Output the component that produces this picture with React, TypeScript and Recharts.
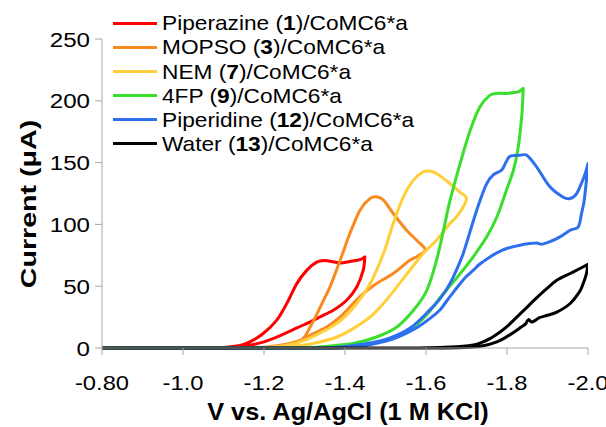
import React from 'react';
import { LineChart, Line, XAxis, YAxis } from 'recharts';

// ---- data (V vs. Ag/AgCl, current in µA) ----
const piperazineV = [-0.8,-1.05,-1.10,-1.14,-1.165,-1.198,-1.231,-1.256,-1.281,-1.306,-1.330,-1.350,-1.370,-1.390,-1.412,-1.437,-1.449,-1.445,-1.429,-1.404,-1.371,-1.338,-1.30,-1.27,-1.24,-1.20,-1.16,-1.12,-1.07,-0.8];
const piperazineI = [0,0,0.5,2,4.9,11.7,22.4,35.9,52.1,63,69.5,70.8,69.8,68.8,70,71.5,73.7,63,49.4,38.6,30.5,25.1,19,14.5,10,5,2,0.5,0,0];

const mopsoV = [-0.8,-1.18,-1.24,-1.28,-1.30,-1.314,-1.33,-1.346,-1.363,-1.388,-1.412,-1.437,-1.462,-1.478,-1.495,-1.519,-1.552,-1.577,-1.598,-1.580,-1.560,-1.519,-1.478,-1.445,-1.420,-1.388,-1.355,-1.322,-1.289,-1.24,-1.20,-1.16,-0.8];
const mopsoI = [0,0,1,4,9,17,27,38,49.4,71,92.6,111.5,121,122.3,119.6,108.8,95.3,87.2,79.7,74.5,71,60.3,52.2,44,36,25.1,17,11.7,6.2,2.2,0.6,0,0];

const nemV = [-0.8,-1.18,-1.24,-1.289,-1.338,-1.388,-1.429,-1.462,-1.495,-1.519,-1.544,-1.569,-1.593,-1.61,-1.626,-1.659,-1.684,-1.700,-1.690,-1.675,-1.659,-1.626,-1.593,-1.560,-1.528,-1.495,-1.462,-1.420,-1.380,-1.338,-1.29,-1.24,-1.18,-0.8];
const nemI = [0,0,1.5,5,12,22,36,52,76.5,100.7,122.3,135.8,142.5,143,141.2,133.1,126,121.2,113,106,100.7,87.2,76.5,62.9,49.4,36,25.1,15.7,8.9,4.9,2,0.5,0,0];

const fpV = [-0.8,-1.30,-1.338,-1.42,-1.478,-1.528,-1.569,-1.602,-1.626,-1.643,-1.659,-1.684,-1.709,-1.733,-1.758,-1.775,-1.799,-1.828,-1.840,-1.837,-1.828,-1.816,-1.799,-1.775,-1.750,-1.717,-1.684,-1.651,-1.635,-1.61,-1.58,-1.55,-1.52,-1.486,-1.45,-1.40,-1.35,-0.8];
const fpI = [0,0,0.8,3.6,8.9,17,30.5,46.7,71,95,119,149,176,195,204.6,206,206,207.3,210,190,163,144,128,106,90,74,60,47,41,30,20,13,8,5,2.5,0.8,0,0];

const piperidineV = [-0.8,-1.35,-1.42,-1.50,-1.56,-1.61,-1.635,-1.659,-1.675,-1.692,-1.717,-1.733,-1.750,-1.766,-1.787,-1.797,-1.807,-1.832,-1.849,-1.873,-1.906,-1.939,-1.956,-1.970,-1.980,-1.992,-2.000,-1.996,-1.990,-1.984,-1.976,-1.956,-1.931,-1.906,-1.886,-1.873,-1.857,-1.832,-1.799,-1.775,-1.758,-1.733,-1.717,-1.700,-1.684,-1.665,-1.651,-1.635,-1.610,-1.58,-1.552,-1.52,-1.486,-1.45,-1.42,-1.38,-0.8];
const piperidineI = [0,0,2,7,16,31,40,52,63,76.5,103,119,133,140,144,150,155,156,156,146.6,130.4,122,121,124,130.4,140,149.3,135,118,108.8,98,95.3,89.9,86,84,85,84.5,83.2,80.5,77,73.7,68,63,58,52,44,38,31,24,17,12,7.5,4.5,2,0.8,0,0];

const waterV = [-0.8,-1.55,-1.659,-1.717,-1.741,-1.758,-1.783,-1.799,-1.816,-1.840,-1.873,-1.898,-1.923,-1.956,-1.980,-2.000,-1.996,-1.988,-1.980,-1.956,-1.923,-1.900,-1.880,-1.862,-1.853,-1.846,-1.835,-1.816,-1.799,-1.775,-1.741,-1.709,-1.65,-0.8];
const waterI = [0,0,0.8,2.5,5,7.6,13,17,22.4,30,40.5,48,54.8,60.3,64.3,67.8,60,52,46,36,29,26.5,24.5,21,23,19.5,17,12.5,9,5,1.8,0.6,0,0];

const seriesNames = ['Piperazine', 'MOPSO', 'NEM', '4FP', 'Piperidine', 'Water'];
const seriesNumbers = ['1', '3', '7', '9', '12', '13'];
const seriesSuffix = '/CoMC6*a';
const seriesColors = ['#FF0000', '#F98A20', '#FFCF3B', '#3ADF2E', '#2D6FEC', '#000000'];
const seriesV = [piperazineV, mopsoV, nemV, fpV, piperidineV, waterV];
const seriesI = [piperazineI, mopsoI, nemI, fpI, piperidineI, waterI];

const xTicks = [-0.8, -1.0, -1.2, -1.4, -1.6, -1.8, -2.0];
const xTickLabels = ['-0.80', '-1.0', '-1.2', '-1.4', '-1.6', '-1.8', '-2.0'];
const yTicks = [0, 50, 100, 150, 200, 250];
const xTitle = 'V vs. Ag/AgCl (1 M KCl)';
const yTitle = 'Current (μA)';

const FONT = '"Liberation Sans", Arial, Helvetica, sans-serif';
const AXIS = '#A6A6A6';

// Smooth Catmull-Rom style curve factory that keeps sharp turning points (scan vertices) as corners.
const smoothLoop = (context: any) => {
  let pts: number[][] = [];
  return {
    areaStart() {},
    areaEnd() {},
    lineStart() {
      pts = [];
    },
    point(x: number, y: number) {
      pts.push([+x, +y]);
    },
    lineEnd() {
      const n = pts.length;
      if (!n) return;
      const tan: number[][] = pts.map((p, i) => {
        if (i === 0 || i === n - 1) return [0, 0];
        const a = pts[i - 1];
        const b = pts[i + 1];
        const ux = p[0] - a[0], uy = p[1] - a[1];
        const vx = b[0] - p[0], vy = b[1] - p[1];
        const lu = Math.hypot(ux, uy) || 1, lv = Math.hypot(vx, vy) || 1;
        const cos = (ux * vx + uy * vy) / (lu * lv);
        if (cos < -0.2) return [0, 0];
        return [(b[0] - a[0]) / 2, (b[1] - a[1]) / 2];
      });
      context.moveTo(pts[0][0], pts[0][1]);
      for (let i = 0; i < n - 1; i++) {
        const p1 = pts[i], p2 = pts[i + 1];
        const seg = Math.hypot(p2[0] - p1[0], p2[1] - p1[1]);
        const scale = (t: number[]) => {
          const lt = Math.hypot(t[0], t[1]);
          if (!lt) return [0, 0];
          const k = Math.min(1, seg / lt);
          return [t[0] * k, t[1] * k];
        };
        const t1 = scale(tan[i]);
        const t2 = scale(tan[i + 1]);
        context.bezierCurveTo(
          p1[0] + t1[0] / 3, p1[1] + t1[1] / 3,
          p2[0] - t2[0] / 3, p2[1] - t2[1] / 3,
          p2[0], p2[1]
        );
      }
    },
  };
};

const XTick = (props: any) => {
  const { x, y, payload } = props;
  const idx = xTicks.findIndex((t) => Math.abs(t - payload.value) < 1e-6);
  const label = idx >= 0 ? xTickLabels[idx] : String(payload.value);
  return (
    <text transform={`translate(${x},${y + 33}) scale(1.13,1)`} textAnchor="middle" fontSize={21} fontFamily={FONT} fill="#000">
      {label}
    </text>
  );
};

const YTick = (props: any) => {
  const { x, y, payload } = props;
  return (
    <text transform={`translate(${x - 3},${y + 7.5}) scale(1.15,1)`} textAnchor="end" fontSize={21} fontFamily={FONT} fill="#000">
      {String(payload.value)}
    </text>
  );
};

export default function App() {
  const series = seriesNames.map((name, k) => ({
    name,
    color: seriesColors[k],
    data: seriesV[k].map((v, j) => ({ v, i: seriesI[k][j] })),
  }));

  return (
    <div style={{ position: 'absolute', left: 0, top: 0, width: 606, height: 427, background: '#fff', fontFamily: FONT }}>
      <LineChart width={606} height={427} margin={{ top: 39, right: 18, bottom: 0, left: 0 }}>
        <XAxis
          type="number"
          dataKey="v"
          domain={[-2.0, -0.8]}
          reversed
          allowDataOverflow
          ticks={xTicks}
          tick={<XTick />}
          tickSize={7}
          height={79}
          axisLine={{ stroke: AXIS, strokeWidth: 1 }}
          tickLine={{ stroke: AXIS, strokeWidth: 1 }}
        />
        <YAxis
          type="number"
          domain={[0, 250]}
          ticks={yTicks}
          tick={<YTick />}
          tickSize={7}
          width={102}
          axisLine={{ stroke: AXIS, strokeWidth: 1 }}
          tickLine={{ stroke: AXIS, strokeWidth: 1 }}
        />
        {series.map((s) => (
          <Line
            key={s.name}
            data={s.data}
            dataKey="i"
            type={smoothLoop as any}
            stroke={s.color}
            strokeWidth={3}
            dot={false}
            activeDot={false}
            isAnimationActive={false}
            strokeLinejoin="round"
          />
        ))}
      </LineChart>

      {/* legend */}
      {series.map((s, k) => {
        const cy = 23.3 + k * 24.1;
        return (
          <div key={s.name}>
            <div style={{ position: 'absolute', left: 113, top: cy - 1.5, width: 44, height: 3, background: s.color }} />
            <div
              style={{
                position: 'absolute',
                left: 162,
                top: cy - 12,
                height: 24,
                lineHeight: '24px',
                fontSize: 21,
                whiteSpace: 'nowrap',
                color: '#000',
                transform: 'scaleX(1.08)',
                transformOrigin: 'left center',
              }}
            >
              {s.name} (<b>{seriesNumbers[k]}</b>){seriesSuffix}
            </div>
          </div>
        );
      })}

      {/* axis titles */}
      <div
        style={{
          position: 'absolute',
          left: 348,
          top: 399,
          transform: 'translateX(-50%) scaleX(1.1)',
          fontSize: 23,
          fontWeight: 'bold',
          whiteSpace: 'nowrap',
          lineHeight: '26px',
          color: '#000',
        }}
      >
        {xTitle}
      </div>
      <div
        style={{
          position: 'absolute',
          left: 29,
          top: 204,
          transform: 'translate(-50%,-50%) rotate(-90deg) scaleX(1.3)',
          fontSize: 22,
          fontWeight: 'bold',
          whiteSpace: 'nowrap',
          lineHeight: '24px',
          color: '#000',
        }}
      >
        {yTitle}
      </div>
    </div>
  );
}
